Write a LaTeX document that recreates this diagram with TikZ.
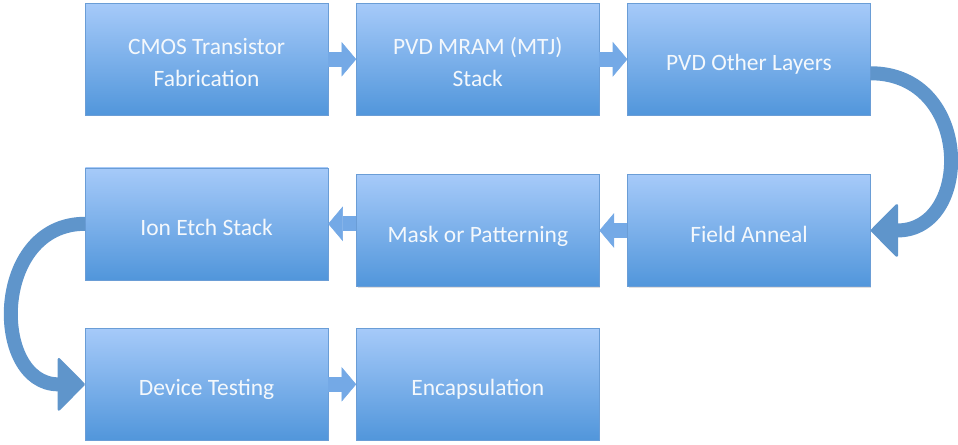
\documentclass[tikz,border=0pt]{standalone}
\usepackage{fontspec}
\setmainfont{Carlito}
\usetikzlibrary{positioning,arrows.meta,shadows}
\definecolor{boxtop}{HTML}{A6CAF9}
\definecolor{boxbot}{HTML}{5196DB}
\definecolor{boxedge}{HTML}{6A9DD6}
\definecolor{boxtext}{HTML}{F4F8FC}
\definecolor{arrowblue}{HTML}{74A9E6}
\definecolor{curveblue}{HTML}{5F95CB}
\tikzset{
  stepbox/.style={draw=boxedge, line width=0.4pt, top color=boxtop, bottom color=boxbot,
    text=boxtext, align=center, minimum width=182pt, minimum height=84pt,
    font=\fontsize{17.6}{24}\selectfont, text height=17.4pt, text depth=0pt,
    drop shadow={opacity=0.25, shadow xshift=0.8pt, shadow yshift=-0.8pt}},
  twoline/.style={text height=41.4pt},
  smallarrow/.style={-{Triangle[width=26pt, length=11pt, line width=0.4pt]}, line width=11pt, draw=arrowblue},
  bigarrow/.style={-{Triangle[width=42pt, length=21pt, line width=2pt, round]}, line width=10.5pt, draw=curveblue}
}
\begin{document}
\begin{tikzpicture}[node distance=21pt]
  \useasboundingbox (0,0) rectangle (718.5pt,-333.75pt);
  % first row
  \node[stepbox, twoline, anchor=north west] (cmos) at (63.75pt,-2.25pt) {CMOS Transistor\\Fabrication};
  \node[stepbox, twoline, right=of cmos] (mram) {PVD MRAM (MTJ)\\Stack};
  \node[stepbox, right=of mram] (other) {PVD Other Layers};
  % second row
  \node[stepbox, below=44pt of other] (anneal) {Field Anneal};
  \node[stepbox, left=of anneal] (mask) {Mask or Patterning};
  \node[stepbox, left=of mask, yshift=5pt] (etch) {Ion Etch Stack};
  % third row
  \node[stepbox, below=36pt of etch] (testing) {Device Testing};
  \node[stepbox, right=of testing] (encap) {Encapsulation};

  \draw[smallarrow] (cmos) -- (mram);
  \draw[smallarrow] (mram) -- (other);
  \draw[smallarrow] (anneal) -- (mask);
  \draw[smallarrow] (mask.west |- etch.east) -- (etch.east);
  \draw[smallarrow] (testing) -- (encap);

  \draw[bigarrow] ([yshift=-10.5pt]other.east) to[out=0, in=0, looseness=1.67] (anneal.east);
  \draw[bigarrow] (etch.west) to[out=180, in=180, looseness=1.5] (testing.west);
\end{tikzpicture}
\end{document}
